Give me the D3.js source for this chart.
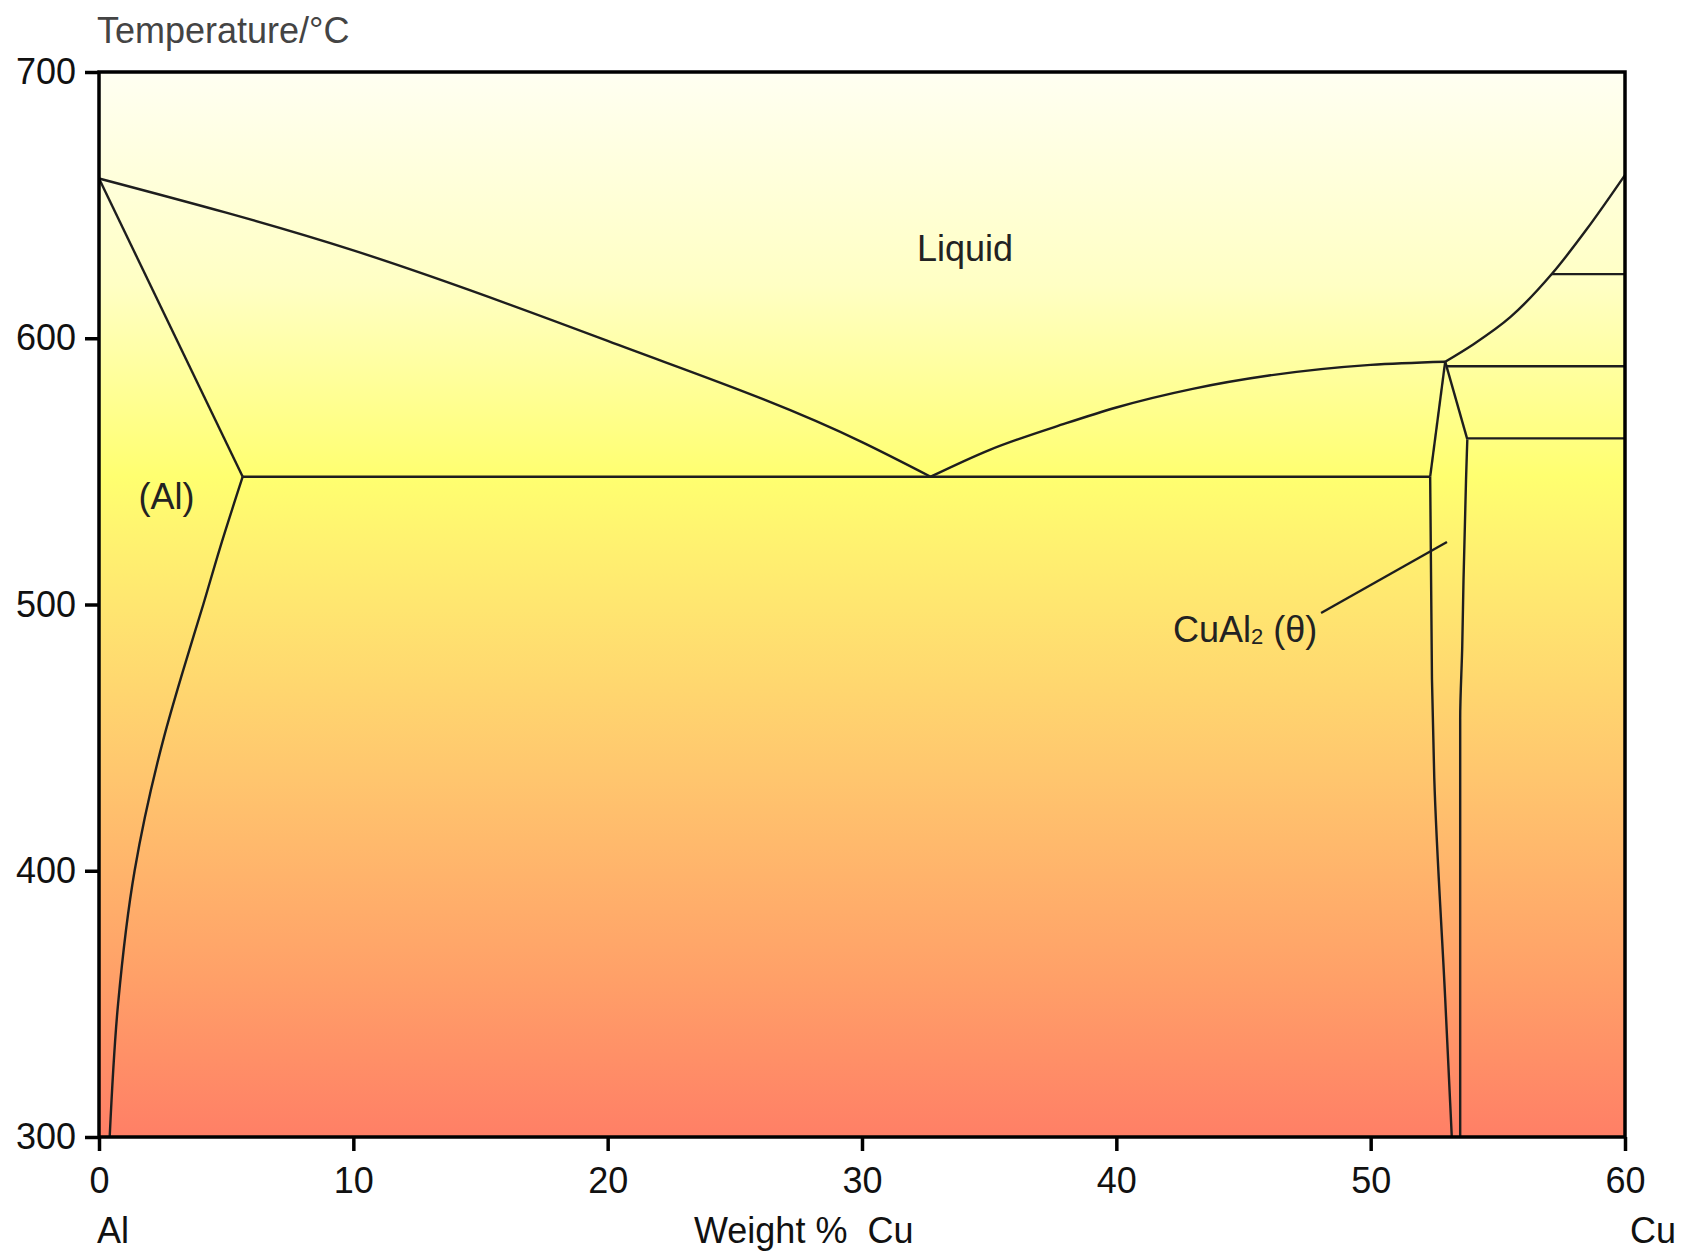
<!DOCTYPE html>
<html>
<head>
<meta charset="utf-8">
<script src="https://cdn.jsdelivr.net/npm/d3@7"></script>
<style>
  body { margin: 0; background: #fff; }
  svg { display: block; font-family: "Liberation Sans", Arial, sans-serif; }
  .tick text { font-size: 36px; fill: #111; }
  .phase { fill: none; stroke: #1e1e1e; stroke-width: 2.4; stroke-linejoin: round; }
  .label { font-size: 36px; fill: #222; }
</style>
</head>
<body>
<svg width="1681" height="1253"></svg>
<script>
// tick values
var xTicks = [0, 10, 20, 30, 40, 50, 60];
var yTicks = [300, 400, 500, 600, 700];

// phase boundaries, [wt% Cu, temperature]
var liquidusAl = [[0, 660], [10, 633], [20, 599], [30, 561], [32.7, 548]];
var liquidusTheta = [[32.7, 548], [35, 558], [38, 568], [40, 574], [43, 581], [46, 586], [50, 590], [52.93, 591.2]];
var liquidusRight = [[52.93, 591.2], [54, 597.5], [55.5, 608], [57.12, 624.1], [58.5, 641], [60, 661.3]];
var solidusAl = [[0, 660], [5.65, 548]];
var solvusAl = [[5.65, 548], [4.75, 521], [4.1, 500], [3.3, 475], [2.55, 450], [1.4, 400], [0.75, 350], [0.42, 300]];
var thetaLeft = [[52.93, 591.2], [52.34, 548], [52.41, 472], [52.5, 435], [52.93, 352], [53.06, 326], [53.19, 300]];
var thetaRight = [[52.93, 591.2], [53.8, 562], [53.75, 547], [53.65, 509], [53.6, 484], [53.52, 457], [53.52, 300]];
var isotherms = [
  [[5.65, 548], [52.34, 548]],
  [[53.0, 589.5], [60, 589.5]],
  [[53.8, 562.4], [60, 562.4]],
  [[57.12, 624.1], [60, 624.1]]
];
var leader = [[48.05, 496.8], [53.0, 523.5]];

var regionLabels = [
  { text: "Liquid", x: 34.05, t: 629, anchor: "middle" },
  { text: "(Al)", x: 2.65, t: 536, anchor: "middle" }
];

var svg = d3.select("svg");

var x = d3.scaleLinear().domain([0, 60]).range([99, 1625]);
var y = d3.scaleLinear().domain([300, 700]).range([1137, 72]);

var defs = svg.append("defs");
var grad = defs.append("linearGradient")
    .attr("id", "bg")
    .attr("x1", 0).attr("y1", 0).attr("x2", 0).attr("y2", 1);
[[0, "#fffff2"], [0.2, "#ffffc4"], [0.38, "#ffff70"], [0.5, "#ffe670"],
 [0.66, "#ffc66e"], [0.85, "#ffa068"], [1, "#ff7f66"]].forEach(function(s) {
  grad.append("stop").attr("offset", s[0]).attr("stop-color", s[1]);
});

svg.append("rect")
    .attr("x", x(0)).attr("y", y(700))
    .attr("width", x(60) - x(0)).attr("height", y(300) - y(700))
    .attr("fill", "url(#bg)");

var smooth = d3.line()
    .x(function(d) { return x(d[0]); })
    .y(function(d) { return y(d[1]); })
    .curve(d3.curveMonotoneX);

var vertical = d3.line()
    .x(function(d) { return x(d[0]); })
    .y(function(d) { return y(d[1]); })
    .curve(d3.curveMonotoneY);

var straight = d3.line()
    .x(function(d) { return x(d[0]); })
    .y(function(d) { return y(d[1]); });

var g = svg.append("g");

[liquidusAl, liquidusTheta, liquidusRight].forEach(function(d) {
  g.append("path").attr("class", "phase").attr("d", smooth(d));
});
// y-monotone boundaries, drawn from top to bottom
[solvusAl, thetaLeft.slice(1), thetaRight.slice(1)].forEach(function(d) {
  g.append("path").attr("class", "phase").attr("d", vertical(d));
});
[solidusAl, thetaLeft.slice(0, 2), thetaRight.slice(0, 2), leader].concat(isotherms).forEach(function(d) {
  g.append("path").attr("class", "phase").attr("d", straight(d));
});

g.selectAll(".region")
  .data(regionLabels)
  .enter().append("text")
    .attr("class", "label")
    .attr("x", function(d) { return x(d.x); })
    .attr("y", function(d) { return y(d.t); })
    .attr("text-anchor", function(d) { return d.anchor; })
    .text(function(d) { return d.text; });

var theta = g.append("text")
    .attr("class", "label")
    .attr("x", x(42.23))
    .attr("y", y(486));
theta.append("tspan").text("CuAl");
theta.append("tspan").attr("font-size", 22).attr("dy", 2).text("2");
theta.append("tspan").attr("dy", -2).text(" (θ)");

// axes
svg.append("g")
    .attr("transform", "translate(" + x(0) + ",0)")
    .call(d3.axisLeft(y).tickValues(yTicks).tickSize(14).tickPadding(9))
    .call(function(a) { a.select(".domain").remove(); })
    .call(function(a) { a.selectAll(".tick line").attr("stroke", "#000").attr("stroke-width", 3.5); });

svg.append("g")
    .attr("transform", "translate(0," + y(300) + ")")
    .call(d3.axisBottom(x).tickValues(xTicks).tickSize(14).tickPadding(16))
    .call(function(a) { a.select(".domain").remove(); })
    .call(function(a) { a.selectAll(".tick line").attr("stroke", "#000").attr("stroke-width", 3.5); });

svg.append("rect")
    .attr("x", x(0)).attr("y", y(700))
    .attr("width", x(60) - x(0)).attr("height", y(300) - y(700))
    .attr("fill", "none")
    .attr("stroke", "#000")
    .attr("stroke-width", 3.5);

svg.append("text")
    .attr("x", 97).attr("y", 43)
    .attr("font-size", 36).attr("fill", "#444")
    .text("Temperature/°C");

svg.append("text")
    .attr("x", 97).attr("y", 1243)
    .attr("font-size", 36).attr("fill", "#111")
    .text("Al");

svg.append("text")
    .attr("x", 694).attr("y", 1243)
    .attr("font-size", 36).attr("fill", "#111")
    .style("white-space", "pre")
    .text("Weight %  Cu");

svg.append("text")
    .attr("x", 1630).attr("y", 1243)
    .attr("font-size", 36).attr("fill", "#111")
    .text("Cu");
</script>
</body>
</html>
